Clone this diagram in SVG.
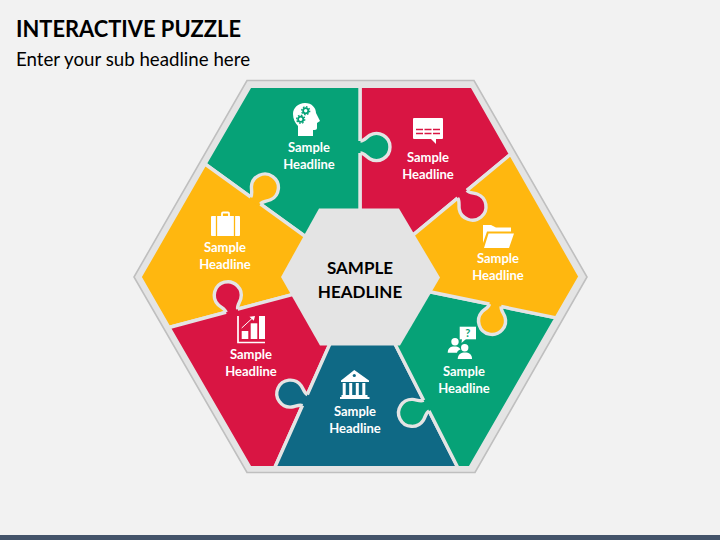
<svg xmlns="http://www.w3.org/2000/svg" xmlns:xlink="http://www.w3.org/1999/xlink" width="720" height="540" viewBox="0 0 720 540">
<style>
.body{stroke:#e4e4e4;stroke-width:3.4;stroke-linejoin:miter}
.ring{fill:none;stroke:#e4e4e4;stroke-width:3.4}
.green{fill:#06a277}.red{fill:#d91543}.yellow{fill:#ffb70f}.blue{fill:#0f6985}
.lbl{font-family:"Lato","Liberation Sans",sans-serif;font-weight:700;font-size:13px;fill:#fff;text-anchor:middle}
.ctr{font-family:"Lato","Liberation Sans",sans-serif;font-weight:700;font-size:17px;fill:#000;text-anchor:middle}
.w{fill:#fff}
</style>
<defs>
<g id="knob">
<path d="M-6,-3L-6,0C-6,3.5-9.95,6.25-11.7,9.25A13.5,13.5 0 1 0 11.7,9.25C9.95,6.25 6,3.5 6,0L6,-3Z"/>
<path class="ring" d="M-6,0C-6,3.5-9.95,6.25-11.7,9.25A13.5,13.5 0 1 0 11.7,9.25C9.95,6.25 6,3.5 6,0"/>
</g>
</defs>
<rect width="720" height="540" fill="#f2f2f2"/>
<rect y="535" width="720" height="5" fill="#44546a"/>
<text x="16" y="36.5" font-family="Lato,'Liberation Sans',sans-serif" font-weight="700" font-size="23.5" fill="#000" textLength="225" lengthAdjust="spacingAndGlyphs">INTERACTIVE PUZZLE</text>
<text x="16" y="66" font-family="Lato,'Liberation Sans',sans-serif" font-size="18.7" fill="#000">Enter your sub headline here</text>
<polygon points="247,80.5 474,80.5 587,277 475,472.5 247,472.5 134,277" fill="#e4e4e4" stroke="#bfbfbf" stroke-width="1.6"/>

<g id="piece-red-top">
<polygon class="body red" points="360,86.3 472,86.3 510.6,154.2 407.8,239.4 360,277 360,230"/>
<g class="w">
<rect x="413" y="118" width="30" height="21" rx="1"/>
<polygon points="430,138 436,144 436,138"/>
</g>
<path d="M416,129.5H440M416,133.5H440" stroke="#d91543" stroke-width="1.3" stroke-dasharray="7 1.5" fill="none"/>
<text class="lbl" x="428" y="162">Sample</text><text class="lbl" x="428" y="179">Headline</text>
</g>

<g id="piece-green-top">
<polygon class="body green" points="250,86.3 360,86.3 360,230 360,277 313,242 205,164"/>
<use href="#knob" class="green" transform="translate(360.5,147) rotate(-90)"/>
<path class="w" d="M298,136V126C295,123 293,119 293,114C293,108 298,103 305,103C312,103 316,108 316,113L320,121L317,123V128C317,130 315,130 313,130V136Z"/>
<g fill="none" stroke="#06a277">
<circle cx="305.7" cy="110.7" r="2.6" stroke-width="1.8"/><circle cx="305.7" cy="110.7" r="4" stroke-width="1.4" stroke-dasharray="1.6 1.5"/>
<circle cx="300.7" cy="119.3" r="2.6" stroke-width="1.8"/><circle cx="300.7" cy="119.3" r="4" stroke-width="1.4" stroke-dasharray="1.6 1.5"/>
</g>
<text class="lbl" x="309" y="152">Sample</text><text class="lbl" x="309" y="169">Headline</text>
</g>

<g id="piece-yellow-left">
<polygon class="body yellow" points="205,164 313,242 360,277 300.7,292.4 169,327.5 140,277"/>
<use href="#knob" class="yellow" transform="translate(255.6,200.5) rotate(215.6)"/>
<rect class="w" x="211" y="216" width="29" height="20" rx="1"/>
<path d="M222,216V213.5Q222,212.5 223,212.5H228Q229,212.5 229,213.5V216" fill="none" stroke="#fff" stroke-width="1.8"/>
<path d="M216.5,216V236M234.5,216V236" stroke="#ffb70f" stroke-width="1.3"/>
<text class="lbl" x="225" y="252">Sample</text><text class="lbl" x="225" y="269">Headline</text>
</g>

<g id="piece-red-lower">
<polygon class="body red" points="169,327.5 300.7,292.4 360,277 333,337 274.7,467.7 250,467.7"/>
<use href="#knob" class="red" transform="translate(231.9,310.7) rotate(165)"/>
<path d="M238,316V342.5H265" fill="none" stroke="#fff" stroke-width="1.7"/>
<g class="w"><rect x="241.7" y="331" width="6.6" height="8"/><rect x="250.7" y="323.3" width="6.6" height="15.7"/><rect x="259" y="316" width="6" height="23"/>
<polygon points="255,316 249.5,316.8 253.8,320.8"/></g>
<path d="M241.7,328L252,318.5" stroke="#fff" stroke-width="1"/>
<text class="lbl" x="251" y="359">Sample</text><text class="lbl" x="251" y="376">Headline</text>
</g>

<g id="piece-blue">
<polygon class="body blue" points="333,337 391.5,337 457.9,467.7 274.7,467.7"/>
<use href="#knob" class="blue" transform="translate(304.9,400.1) rotate(114)"/>
<g class="w">
<polygon points="354.3,370 341,380.5 341,382 369,382 369,380.5"/>
<rect x="342.7" y="383" width="3" height="12"/><rect x="349.2" y="383" width="3" height="12"/><rect x="355.8" y="383" width="3" height="12"/><rect x="362.3" y="383" width="3" height="12"/>
<rect x="341.5" y="395" width="26" height="2"/><rect x="340" y="397" width="29.5" height="2"/>
</g>
<circle cx="354.3" cy="375.5" r="1.6" fill="#0f6985"/>
<text class="lbl" x="355" y="416">Sample</text><text class="lbl" x="355" y="433">Headline</text>
</g>

<g id="piece-green-lower">
<polygon class="body green" points="421.2,290 556.2,317.9 470,467.7 457.9,467.7 391.5,337 360,277"/>
<use href="#knob" class="green" transform="translate(426.3,405.6) rotate(63.1)"/>
<g class="w">
<rect x="459.7" y="326.7" width="16.3" height="12.6"/><polygon points="462,339 461.5,343 466,339"/>
<circle cx="455" cy="341.7" r="3.7"/><path d="M447.7,352.7C448,347.5 451,346.5 454,346.5C457,346.5 459.5,347 460.5,349.5C458.5,350 457.5,351 457,352.7Z"/>
<circle cx="464.7" cy="347.7" r="3.7"/><path d="M457.7,359C458,354 461,352.5 465,352.5C469,352.5 472,354 472,359Z"/>
</g>
<text x="467.8" y="337.3" font-family="Lato,'Liberation Sans',sans-serif" font-weight="700" font-size="11" fill="#06a277" text-anchor="middle">?</text>
<text class="lbl" x="464" y="376">Sample</text><text class="lbl" x="464" y="393">Headline</text>
</g>

<g id="piece-yellow-right">
<polygon class="body yellow" points="510.6,154.2 580,276.5 556.2,317.9 421.2,290 360,277 407.8,239.4"/>
<use href="#knob" class="yellow" transform="translate(495.3,305.3) rotate(11.7)"/>
<g class="w"><path d="M483,225H491L496,227.5H511V231.5H487L483,243Z"/><path d="M488.5,233.5H514L509,248H484Z"/></g>
<text class="lbl" x="498" y="263">Sample</text><text class="lbl" x="498" y="280">Headline</text>
</g>

<g id="piece-red-top-tab">
<use href="#knob" class="red" transform="translate(462.3,194.3) rotate(-39.6)"/>
</g>

<g id="center">
<polygon points="319,208.5 399,208.5 440,277.5 400,345.5 320,345.5 281,277" fill="#e4e4e4"/>
<text class="ctr" x="360" y="274">SAMPLE</text><text class="ctr" x="360" y="298">HEADLINE</text>
</g>
</svg>
